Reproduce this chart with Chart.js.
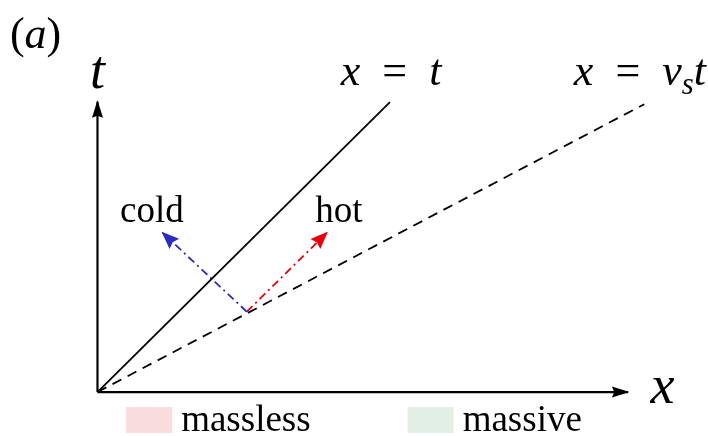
<!DOCTYPE html>
<html>
<head>
<meta charset="utf-8">
<script src="https://cdn.jsdelivr.net/npm/chart.js@4/dist/chart.umd.min.js"></script>
<style>
  html, body { margin: 0; padding: 0; background: #fff; }
  canvas { display: block; }
</style>
</head>
<body>
<canvas id="chart" width="708" height="436"></canvas>
<script>
// axes (x to the right, t upward)
var xAxisX = [0, 1.823], xAxisT = [0, 0];
var tAxisX = [0, 0], tAxisT = [0, 0.997];
// light line x = t and sound line x = v_s t
var lightX = [0, 1.005], lightT = [0, 0.996];
var soundX = [0, 1.879], soundT = [0, 0.989];
// cold / hot arrows leaving the same point
var coldX = [0.513, 0.224], coldT = [0.276, 0.547];
var hotX = [0.513, 0.788], hotT = [0.276, 0.547];
// legend
var legendNames = ['massless', 'massive'];
var legendColors = ['#f9dcdd', '#e1efe5'];

var SERIF = '"Liberation Serif", "DejaVu Serif", serif';
var EQ = '\u2002=\u2002';

function pts(xs, ts) {
  return xs.map(function (x, i) { return { x: x, y: ts[i] }; });
}

function font(size, it) {
  return (it ? 'italic ' : '') + size + 'px ' + SERIF;
}

// text made of runs: {t, it, sub}
function drawRuns(ctx, runs, x, y, size, align) {
  var w = 0;
  runs.forEach(function (r) {
    ctx.font = font(r.sub ? size * 0.7 : size, r.it);
    r.w = ctx.measureText(r.t).width;
    w += r.w;
  });
  var cx = align === 'center' ? x - w / 2 : x;
  runs.forEach(function (r) {
    ctx.font = font(r.sub ? size * 0.7 : size, r.it);
    ctx.fillText(r.t, cx, y + (r.sub ? size * 0.2 : 0));
    cx += r.w;
  });
}

var notes = [
  { runs: [{ t: '(' }, { t: 'a', it: 1 }, { t: ')' }], x: -0.301, y: 1.182, size: 44, align: 'left' },
  { runs: [{ t: 't', it: 1 }], x: 0, y: 1.045, size: 54, align: 'center' },
  { runs: [{ t: 'x', it: 1 }], x: 1.942, y: -0.038, size: 54, align: 'center' },
  { runs: [{ t: 'x', it: 1 }, { t: EQ }, { t: 't', it: 1 }], x: 1.009, y: 1.055, size: 44, align: 'center' },
  { runs: [{ t: 'x', it: 1 }, { t: EQ }, { t: 'v', it: 1 }, { t: 's', it: 1, sub: 1 }, { t: 't', it: 1 }], x: 1.864, y: 1.055, size: 44, align: 'center' },
  { runs: [{ t: 'cold' }], x: 0.187, y: 0.583, size: 37, align: 'center' },
  { runs: [{ t: 'hot' }], x: 0.830, y: 0.583, size: 37, align: 'center' }
];

var arrowHeads = {
  id: 'arrowHeads',
  afterDatasetsDraw: function (chart) {
    var ctx = chart.ctx;
    chart.data.datasets.forEach(function (ds, i) {
      if (!ds.head) return;
      var p = chart.getDatasetMeta(i).data;
      var a = p[p.length - 2], b = p[p.length - 1];
      var ang = Math.atan2(b.y - a.y, b.x - a.x);
      var L = ds.head[0], W = ds.head[1];
      ctx.save();
      ctx.translate(b.x, b.y);
      ctx.rotate(ang);
      ctx.fillStyle = ds.borderColor;
      ctx.beginPath();
      ctx.moveTo(1.5, 0);
      ctx.lineTo(-L, W);
      ctx.lineTo(-L * 0.86, 0);
      ctx.lineTo(-L, -W);
      ctx.closePath();
      ctx.fill();
      ctx.restore();
    });
  }
};

var textNotes = {
  id: 'textNotes',
  afterDraw: function (chart) {
    var ctx = chart.ctx, sx = chart.scales.x, sy = chart.scales.y;
    ctx.save();
    ctx.fillStyle = '#000';
    ctx.textBaseline = 'alphabetic';
    ctx.textAlign = 'left';
    notes.forEach(function (n) {
      drawRuns(ctx, n.runs, sx.getPixelForValue(n.x), sy.getPixelForValue(n.y), n.size, n.align);
    });

    // legend row along the bottom
    var size = 37, box = [46, 26], gapText = 9, gapItem = 97;
    ctx.font = font(size, 0);
    var widths = legendNames.map(function (s) { return ctx.measureText(s).width; });
    var total = 0;
    widths.forEach(function (w, i) { total += box[0] + gapText + w + (i ? gapItem : 0); });
    var x = (chart.width - total) / 2;
    legendNames.forEach(function (s, i) {
      ctx.fillStyle = legendColors[i];
      ctx.fillRect(x, 407, box[0], box[1]);
      ctx.fillStyle = '#000';
      ctx.fillText(s, x + box[0] + gapText, 431);
      x += box[0] + gapText + widths[i] + gapItem;
    });
    ctx.restore();
  }
};

function line(label, xs, ts, color, width, dash, head) {
  return {
    label: label,
    data: pts(xs, ts),
    showLine: true,
    borderColor: color,
    backgroundColor: color,
    borderWidth: width,
    borderDash: dash,
    pointRadius: 0,
    fill: false,
    clip: false,
    head: head
  };
}

new Chart(document.getElementById('chart'), {
  type: 'scatter',
  data: {
    datasets: [
      line('x axis', xAxisX, xAxisT, '#000', 2.2, [], [16, 5.5]),
      line('t axis', tAxisX, tAxisT, '#000', 2.2, [], [16, 5.5]),
      line('x = t', lightX, lightT, '#000', 1.8, [], null),
      line('x = v_s t', soundX, soundT, '#000', 1.8, [10, 7], null),
      line('cold', coldX, coldT, '#2b2bbd', 1.8, [8, 4, 2, 4], [16, 7]),
      line('hot', hotX, hotT, '#e8000b', 1.8, [8, 4, 2, 4], [16, 7])
    ]
  },
  options: {
    responsive: false,
    animation: false,
    devicePixelRatio: 1,
    layout: { padding: 0 },
    scales: {
      x: { type: 'linear', min: -0.335, max: 2.098, display: false },
      y: { type: 'linear', min: -0.151, max: 1.347, display: false }
    },
    plugins: {
      legend: { display: false },
      tooltip: { enabled: false }
    }
  },
  plugins: [arrowHeads, textNotes]
});
</script>
</body>
</html>
